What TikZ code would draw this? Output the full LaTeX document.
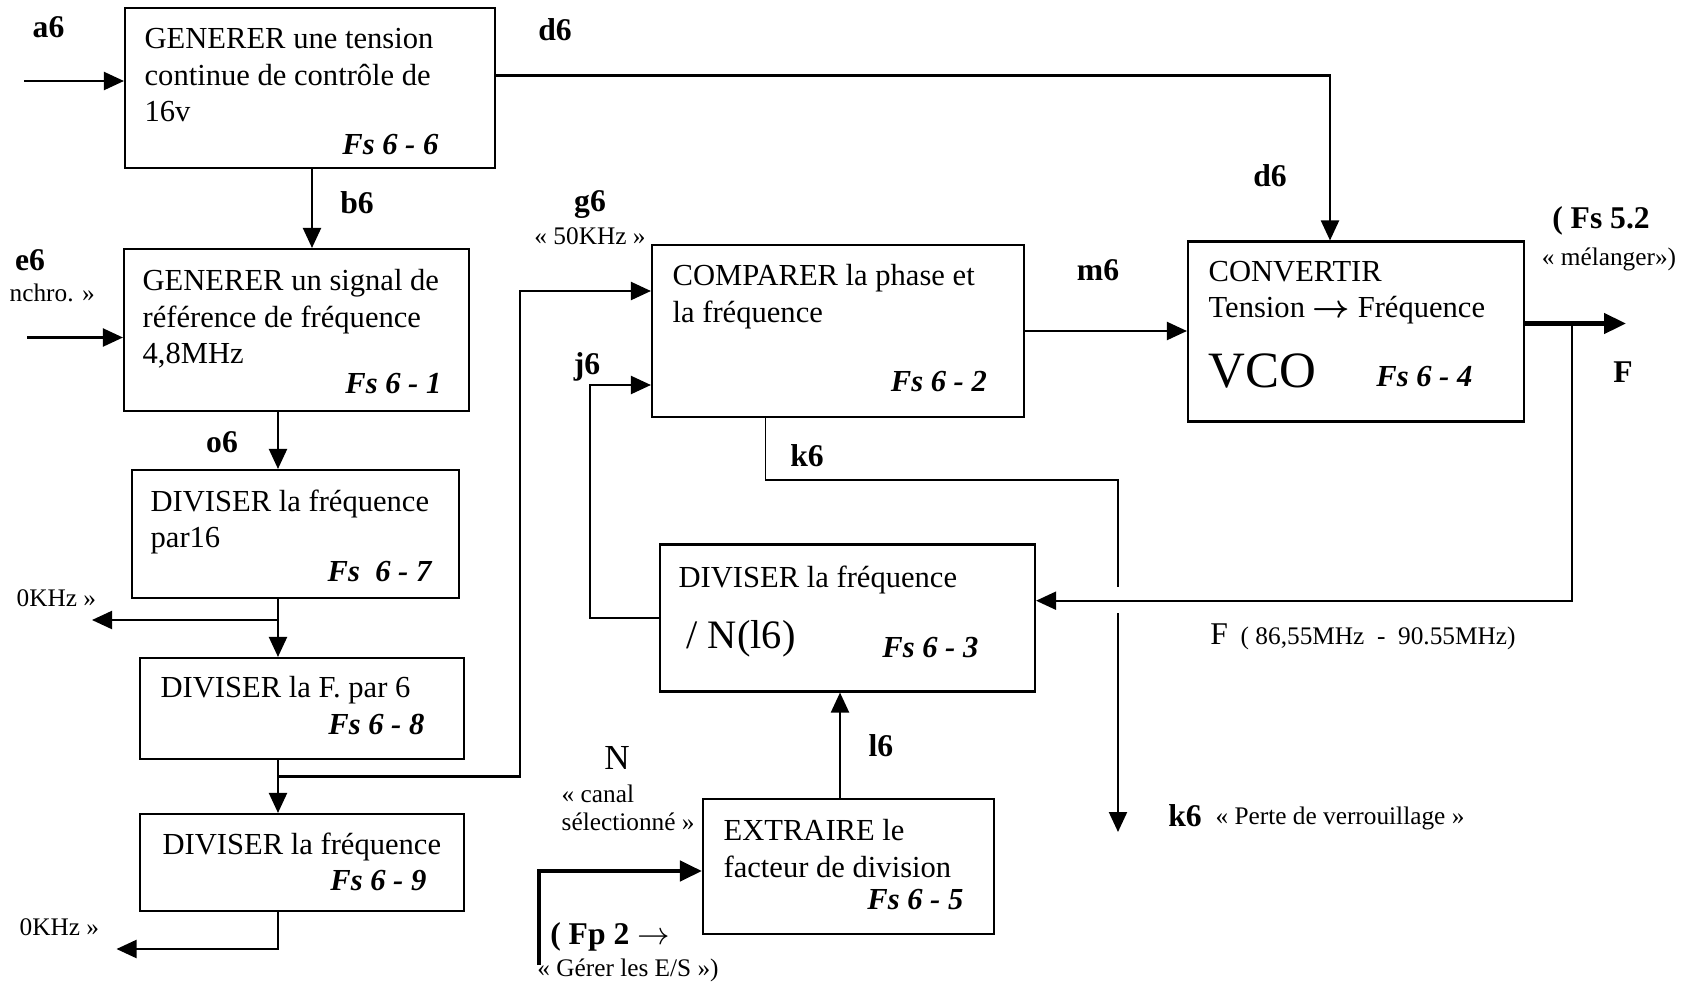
\documentclass[tikz,border=0pt]{standalone}
\usepackage{fontspec}
\setmainfont{Liberation Serif}
\usetikzlibrary{arrows.meta}

\begin{document}
\begin{tikzpicture}[
  blk/.style={draw, line width=0.6pt, inner sep=0pt},
  txt/.style={anchor=north west, inner sep=0pt, align=left, font=\fontsize{8.7}{10.3}\selectfont},
  ref/.style={anchor=base east, inner sep=0pt, font=\fontsize{8.7}{10.2}\selectfont\bfseries\itshape},
  sig/.style={inner sep=0pt, font=\fontsize{9}{11}\selectfont\bfseries},
  note/.style={inner sep=0pt, font=\fontsize{7.2}{8.6}\selectfont},
  arr/.style={line width=0.6pt, -{Triangle[length=2mm,width=1.8mm]}},
  arrthick/.style={line width=1.3pt, -{Triangle[length=2.2mm,width=2mm]}},
]
\useasboundingbox (0,0) rectangle (16.91,-9.87);

% boxes
\node[blk, minimum width=3.70cm, minimum height=1.60cm] (b66) at (3.10,-0.88) {};
\node[blk, minimum width=3.45cm, minimum height=1.62cm] (b61) at (2.965,-3.30) {};
\node[blk, minimum width=3.27cm, minimum height=1.28cm] (b67) at (2.955,-5.34) {};
\node[blk, minimum width=3.24cm, minimum height=1.01cm] (b68) at (3.02,-7.085) {};
\node[blk, minimum width=3.24cm, minimum height=0.97cm] (b69) at (3.02,-8.625) {};
\node[blk, minimum width=3.72cm, minimum height=1.72cm] (b62) at (8.38,-3.31) {};
\node[blk, minimum width=3.36cm, minimum height=1.80cm] (b64) at (13.56,-3.315) {};
\node[blk, minimum width=3.75cm, minimum height=1.47cm] (b63) at (8.475,-6.18) {};
\node[blk, minimum width=2.91cm, minimum height=1.35cm] (b65) at (8.485,-8.665) {};

% box texts
\node[txt] at ([xshift=0.20cm,yshift=-0.21cm]b66.north west) {GENERER une tension\\continue de contrôle de\\16v};
\node[txt] at ([xshift=0.19cm,yshift=-0.21cm]b61.north west) {GENERER un signal de\\référence de fréquence\\4,8MHz};
\node[txt] at ([xshift=0.19cm,yshift=-0.20cm]b67.north west) {DIVISER la fréquence\\par16};
\node[txt] at ([xshift=0.21cm,yshift=-0.19cm]b68.north west) {DIVISER la F. par 6};
\node[txt] at ([xshift=0.23cm,yshift=-0.19cm]b69.north west) {DIVISER la fréquence};
\node[txt] at ([xshift=0.21cm,yshift=-0.20cm]b62.north west) {COMPARER la phase et\\la fréquence};
\node[txt] at ([xshift=0.21cm,yshift=-0.20cm]b64.north west) {CONVERTIR\\Tension {\boldmath$\rightarrow$} Fréquence};
\node[anchor=base west, inner sep=0pt, font=\fontsize{14.5}{16}\selectfont] at ([xshift=0.21cm,yshift=-0.555cm]b64.west) {VCO};
\node[txt] at ([xshift=0.19cm,yshift=-0.22cm]b63.north west) {DIVISER la fréquence};
\node[anchor=base west, inner sep=0pt, font=\fontsize{11.5}{13}\selectfont] at ([xshift=0.27cm,yshift=-0.30cm]b63.west) {/ N(l6)};
\node[txt] at ([xshift=0.21cm,yshift=-0.21cm]b65.north west) {EXTRAIRE le\\facteur de division};

\node[ref] at ([xshift=-0.57cm,yshift=0.15cm]b66.south east) {Fs 6 - 6};
\node[ref] at ([xshift=-0.28cm,yshift=0.185cm]b61.south east) {Fs 6 - 1};
\node[ref] at ([xshift=-0.28cm,yshift=0.18cm]b67.south east) {Fs\enspace 6 - 7};
\node[ref] at ([xshift=-0.40cm,yshift=0.26cm]b68.south east) {Fs 6 - 8};
\node[ref] at ([xshift=-0.38cm,yshift=0.22cm]b69.south east) {Fs 6 - 9};
\node[ref] at ([xshift=-0.375cm,yshift=0.27cm]b62.south east) {Fs 6 - 2};
\node[ref] at ([xshift=-0.52cm,yshift=0.356cm]b64.south east) {Fs 6 - 4};
\node[ref] at ([xshift=-0.57cm,yshift=0.35cm]b63.south east) {Fs 6 - 3};
\node[ref] at ([xshift=-0.31cm,yshift=0.26cm]b65.south east) {Fs 6 - 5};

% free ends
\coordinate (colx) at (2.78,0);
\coordinate (a6in) at (0.24,-0.81);
\coordinate (e6in) at (0.27,-3.375);
\coordinate (br1) at (2.78,-6.20);
\coordinate (out1) at (0.92,-6.20);
\coordinate (br2) at (2.78,-7.765);
\coordinate (out2) at (1.165,-9.49);
\coordinate (fout) at (16.26,-3.235);
\coordinate (br3) at (15.72,-3.235);
\coordinate (k6gapA) at (11.18,-5.87);
\coordinate (k6gapB) at (11.18,-6.13);
\coordinate (k6out) at (11.18,-8.32);
\coordinate (fpin) at (5.39,-9.65);

% connectors
\draw[arr] (a6in) -- (a6in -| b66.west);
\draw[arr] ([yshift=0.125cm]b66.east) -| ([xshift=-0.26cm]b64.north);
\draw[arr] ([xshift=0.02cm]b66.south) -- ([xshift=0.02cm]b66.south |- b61.north);
\draw[arr] (e6in) -- (e6in -| b61.west);
\draw[arr] (b61.south -| colx) -- (b67.north -| colx);
\draw[arr] (b67.south -| colx) -- (b68.north -| colx);
\draw[arr] (br1) -- (out1);
\draw[arr] (b68.south -| colx) -- (b69.north -| colx);
\draw[arr] (br2) -- ++(2.42,0) |- ([yshift=0.40cm]b62.west);
\draw[arr] (b69.south -| colx) |- (out2);
\draw[arr] (b63.west) -- ++(-0.69,0) |- ([yshift=-0.54cm]b62.west);
\draw ([xshift=-0.724cm]b62.south) |- (k6gapA |- 0,-4.80) -- (k6gapA);
\draw[arr] (k6gapB) -- (k6out);
\draw[arr] (b62.east) -- (b62.east -| b64.west);
\draw[arrthick] ([yshift=0.08cm]b64.east) -- (fout);
\draw[arr] (br3) |- ([yshift=0.173cm]b63.east);
\draw[arr] ([xshift=-0.085cm]b65.north) -- ([xshift=-0.085cm]b65.north |- b63.south);
\draw[arrthick] (fpin) |- ([yshift=-0.045cm]b65.west);

% signal labels
\node[sig] at (0.485,-0.27) {a6};
\node[sig] at (5.55,-0.30) {d6};
\node[sig] at (12.70,-1.76) {d6};
\node[sig] at (3.57,-2.03) {b6};
\node[sig] at (0.30,-2.60) {e6};
\node[note, anchor=west] at (0.09,-2.93) {nchro. »};
\node[sig] at (2.22,-4.42) {o6};
\node[note, anchor=west] at (0.16,-5.98) {0KHz »};
\node[note, anchor=west] at (0.19,-9.27) {0KHz »};
\node[sig] at (5.90,-2.05) {g6};
\node[note] at (5.90,-2.36) {« 50KHz »};
\node[sig] at (5.87,-3.67) {j6};
\node[sig] at (8.07,-4.56) {k6};
\node[sig] at (10.98,-2.70) {m6};
\node[sig] at (16.01,-2.21) {( Fs 5.2};
\node[note] at (16.09,-2.59) {« mélanger»)};
\node[sig] at (16.23,-3.72) {F};
\node[note] at (13.63,-6.37) {{\fontsize{9}{11}\selectfont F}\ \ ( 86,55MHz\ \ -\ \ 90.55MHz)};
\node[sig] at (8.81,-7.46) {l6};
\node[inner sep=0pt, font=\fontsize{10}{12}\selectfont] at (6.17,-7.58) {N};
\node[note, anchor=west] at (5.61,-7.94) {« canal};
\node[note, anchor=west] at (5.61,-8.22) {sélectionné »};
\node[sig] at (6.10,-9.37) {( Fp 2 $\rightarrow$};
\node[note] at (6.28,-9.70) {« Gérer les E/S »)};
\node[sig] at (11.85,-8.16) {k6};
\node[note] at (13.40,-8.185) {« Perte de verrouillage »};
\end{tikzpicture}
\end{document}
